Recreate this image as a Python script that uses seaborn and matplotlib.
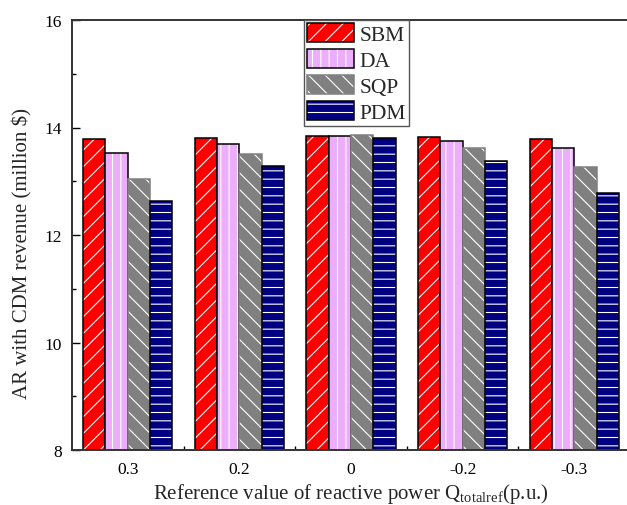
import pandas as pd
import matplotlib
matplotlib.use("Agg")
import matplotlib.pyplot as plt
import matplotlib.colors as mcolors
from matplotlib.ticker import MultipleLocator, FixedLocator
import seaborn as sns

# Values
q_labels = ['0.3', '0.2', '0', '-0.2', '-0.3']
methods = ['SBM', 'DA', 'SQP', 'PDM']
sbm = [13.78, 13.81, 13.85, 13.82, 13.78]
da = [13.52, 13.70, 13.85, 13.75, 13.61]
sqp = [13.04, 13.50, 13.86, 13.62, 13.27]
pdm = [12.64, 13.29, 13.81, 13.38, 12.79]

# Style per method
face_colors = ['#FF0000', '#ECADFA', '#808080', '#000080']
edge_colors = ['black', 'black', '#808080', 'black']
hatches = ['//', '||', '\\\\', '--']

# Long-form table for seaborn
rows = []
for m, vals in zip(methods, [sbm, da, sqp, pdm]):
    for q, v in zip(q_labels, vals):
        rows.append({'Q': q, 'method': m, 'revenue': v})
data = pd.DataFrame(rows)

sns.set_style('ticks')
plt.rcParams['font.family'] = ['Liberation Serif', 'DejaVu Serif']
plt.rcParams['mathtext.fontset'] = 'custom'
plt.rcParams['mathtext.rm'] = 'Liberation Serif'
plt.rcParams['hatch.linewidth'] = 0.8

fig = plt.figure(figsize=(6.27, 5.06), dpi=100)
ax = fig.add_axes([72 / 627, 55 / 506, 558 / 627, 430 / 506])

sns.barplot(data=data, x='Q', y='revenue', hue='method', order=q_labels,
            hue_order=methods, palette=face_colors, saturation=1,
            errorbar=None, width=0.8, gap=0, linewidth=1.1, legend=False, ax=ax)

white = mcolors.to_rgba('white')
for cont, ec, h in zip(ax.containers, edge_colors, hatches):
    for p in cont.patches:
        p.set_edgecolor(ec)
        p.set_hatch(h)
        if hasattr(p, 'set_hatchcolor'):
            p.set_hatchcolor('white')
        else:
            p._hatch_color = white

ax.set_ylim(8, 16)
ax.set_xlim(-0.5, len(q_labels) - 0.5)
ax.yaxis.set_major_locator(MultipleLocator(2))
ax.yaxis.set_minor_locator(MultipleLocator(1))
ax.xaxis.set_minor_locator(FixedLocator([i + 0.5 for i in range(len(q_labels) - 1)]))

ax.tick_params(axis='both', which='major', direction='in', length=6, width=1,
               labelsize=12.5, color='black', labelcolor='black', pad=7)
ax.tick_params(axis='both', which='minor', direction='in', length=3, width=1,
               color='black')
ax.tick_params(axis='x', which='major', length=5, pad=8)

for s in ax.spines.values():
    s.set_linewidth(1.4)
    s.set_color('#333333')

ax.set_ylabel('AR with CDM revenue (million \\$)', fontsize=15)
ax.yaxis.set_label_coords(-0.07, 0.46)
ax.set_xlabel('Reference value of reactive power Q$_{\\mathregular{totalref}}$(p.u.)',
              fontsize=15, labelpad=3)

leg = ax.legend(handles=list(ax.containers), labels=methods, loc='upper center',
                bbox_to_anchor=(0.51, 1.0), fontsize=15.5, frameon=True,
                fancybox=False, edgecolor='#555555', framealpha=1,
                handlelength=2.2, handleheight=1.0, labelspacing=0.18,
                handletextpad=0.25, borderpad=0.15, borderaxespad=0)
leg.get_frame().set_linewidth(1.0)

fig.savefig('out.png', dpi=100)
